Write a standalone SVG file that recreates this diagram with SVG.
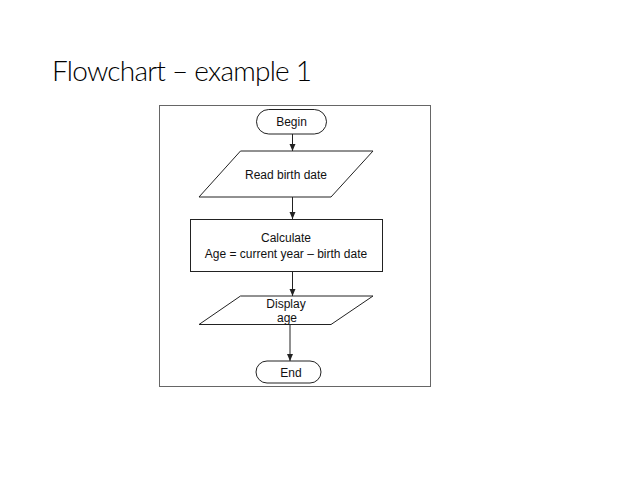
<svg xmlns="http://www.w3.org/2000/svg" width="638" height="478" viewBox="0 0 638 478">
<style>
.shape{fill:#fff;stroke:#222;stroke-width:1}
.lbl{font-family:"Liberation Sans",Arial,sans-serif;font-size:12px;fill:#111;text-anchor:middle}
.conn{stroke:#222;stroke-width:1;fill:none;marker-end:url(#ah)}
</style>
<defs>
<marker id="ah" markerWidth="8" markerHeight="8" refX="7" refY="4" orient="auto" markerUnits="userSpaceOnUse">
<path d="M0,1 L7,4 L0,7 Z" fill="#222"/>
</marker>
</defs>
<rect width="638" height="478" fill="#fff"/>
<text x="52" y="81" font-family="Lato,'Open Sans',sans-serif" font-weight="300" font-size="28" fill="#000" textLength="260">Flowchart – example 1</text>
<rect id="frame" x="159.5" y="105.5" width="271" height="281" fill="none" stroke="#666" stroke-width="1"/>
<g id="connectors">
<line class="conn" x1="292.5" y1="134" x2="292.5" y2="151"/>
<line class="conn" x1="292.5" y1="197" x2="292.5" y2="219"/>
<line class="conn" x1="292.5" y1="272" x2="292.5" y2="296"/>
<line class="conn" x1="290" y1="324" x2="290" y2="361"/>
</g>
<g id="begin">
<rect class="shape" x="256.5" y="109.5" width="70" height="24.5" rx="12.25"/>
<text class="lbl" x="291.5" y="126">Begin</text>
</g>
<g id="read">
<polygon class="shape" points="240.5,151 373,151 331,197 199,197"/>
<text class="lbl" x="286" y="179">Read birth date</text>
</g>
<g id="calc">
<rect class="shape" x="190.5" y="219.5" width="192" height="52"/>
<text class="lbl" x="286" y="242">Calculate</text>
<text class="lbl" x="286" y="258">Age = current year – birth date</text>
</g>
<g id="display">
<polygon class="shape" points="240.5,296 373,296 331,324.5 199,324.5"/>
<text class="lbl" x="286" y="308">Display</text>
<text class="lbl" x="287" y="322">age</text>
</g>
<g id="end">
<rect class="shape" x="256" y="361" width="65" height="22" rx="11"/>
<text class="lbl" x="291" y="376.5">End</text>
</g>
</svg>
